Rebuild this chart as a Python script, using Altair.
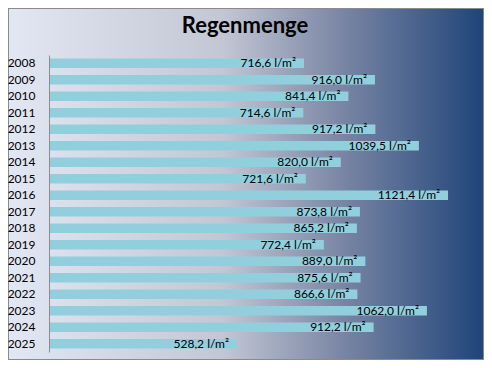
import altair as alt
import pandas as pd

years = [str(y) for y in range(2008, 2026)]
values = [716.6, 916.0, 841.4, 714.6, 917.2, 1039.5, 820.0, 721.6, 1121.4,
          873.8, 865.2, 772.4, 889.0, 875.6, 866.6, 1062.0, 912.2, 528.2]
title_text = "Regenmenge"

df = pd.DataFrame({"Jahr": years, "Regen": values})

W, H = 427, 297
PL, PT = 41, 47
TOTAL_W, TOTAL_H = 476, 352

bg = alt.Chart(pd.DataFrame({"a": [0]})).mark_rect(
    color=alt.LinearGradient(
        gradient="linear", x1=0, y1=0, x2=1, y2=0,
        stops=[
            alt.GradientStop(offset=0, color="#e2e7f4"),
            alt.GradientStop(offset=0.45, color="#c3c7d4"),
            alt.GradientStop(offset=0.7, color="#7a86a4"),
            alt.GradientStop(offset=1, color="#1f4479"),
        ],
    ),
    stroke="#8a8a8a", strokeWidth=2,
).encode(
    x=alt.value(-PL), x2=alt.value(TOTAL_W - PL),
    y=alt.value(-PT), y2=alt.value(TOTAL_H - PT),
)

title = alt.Chart(pd.DataFrame({"t": [title_text]})).mark_text(
    font="Lato", fontSize=22, fontWeight="bold", color="#000000",
    align="center", baseline="alphabetic",
).encode(x=alt.value(196), y=alt.value(-22), text="t:N")

base = alt.Chart(df).encode(
    y=alt.Y("Jahr:N", sort=years, title=None,
            scale=alt.Scale(paddingInner=0.42, paddingOuter=0.21),
            axis=alt.Axis(ticks=False, labelPadding=14, labelFontSize=12,
                          labelColor="#000000", labelFont="Lato", zindex=1,
                          domainColor="#8c8c8c", domainWidth=1)),
)

bars = base.mark_bar(color="#92cfdd").encode(
    x=alt.X("Regen:Q", scale=alt.Scale(domain=[0, 1200]), axis=None, title=None),
)

labels = base.mark_text(align="right", dx=-8, fontSize=12, font="Lato",
                        color="#000000", baseline="middle").transform_calculate(
    lab="replace(format(datum.Regen, '.1f'), '.', ',') + ' l/m²'"
).encode(
    x=alt.X("Regen:Q"),
    text="lab:N",
)

chart = alt.layer(bg, title, bars, labels).properties(
    width=W, height=H,
    autosize=alt.AutoSizeParams(type="none"),
    padding={"left": PL, "top": PT, "right": TOTAL_W - PL - W, "bottom": TOTAL_H - PT - H},
).configure_view(stroke=None).configure(background="white")

chart.save("out.html", embed_options={"renderer": "svg", "actions": False})
